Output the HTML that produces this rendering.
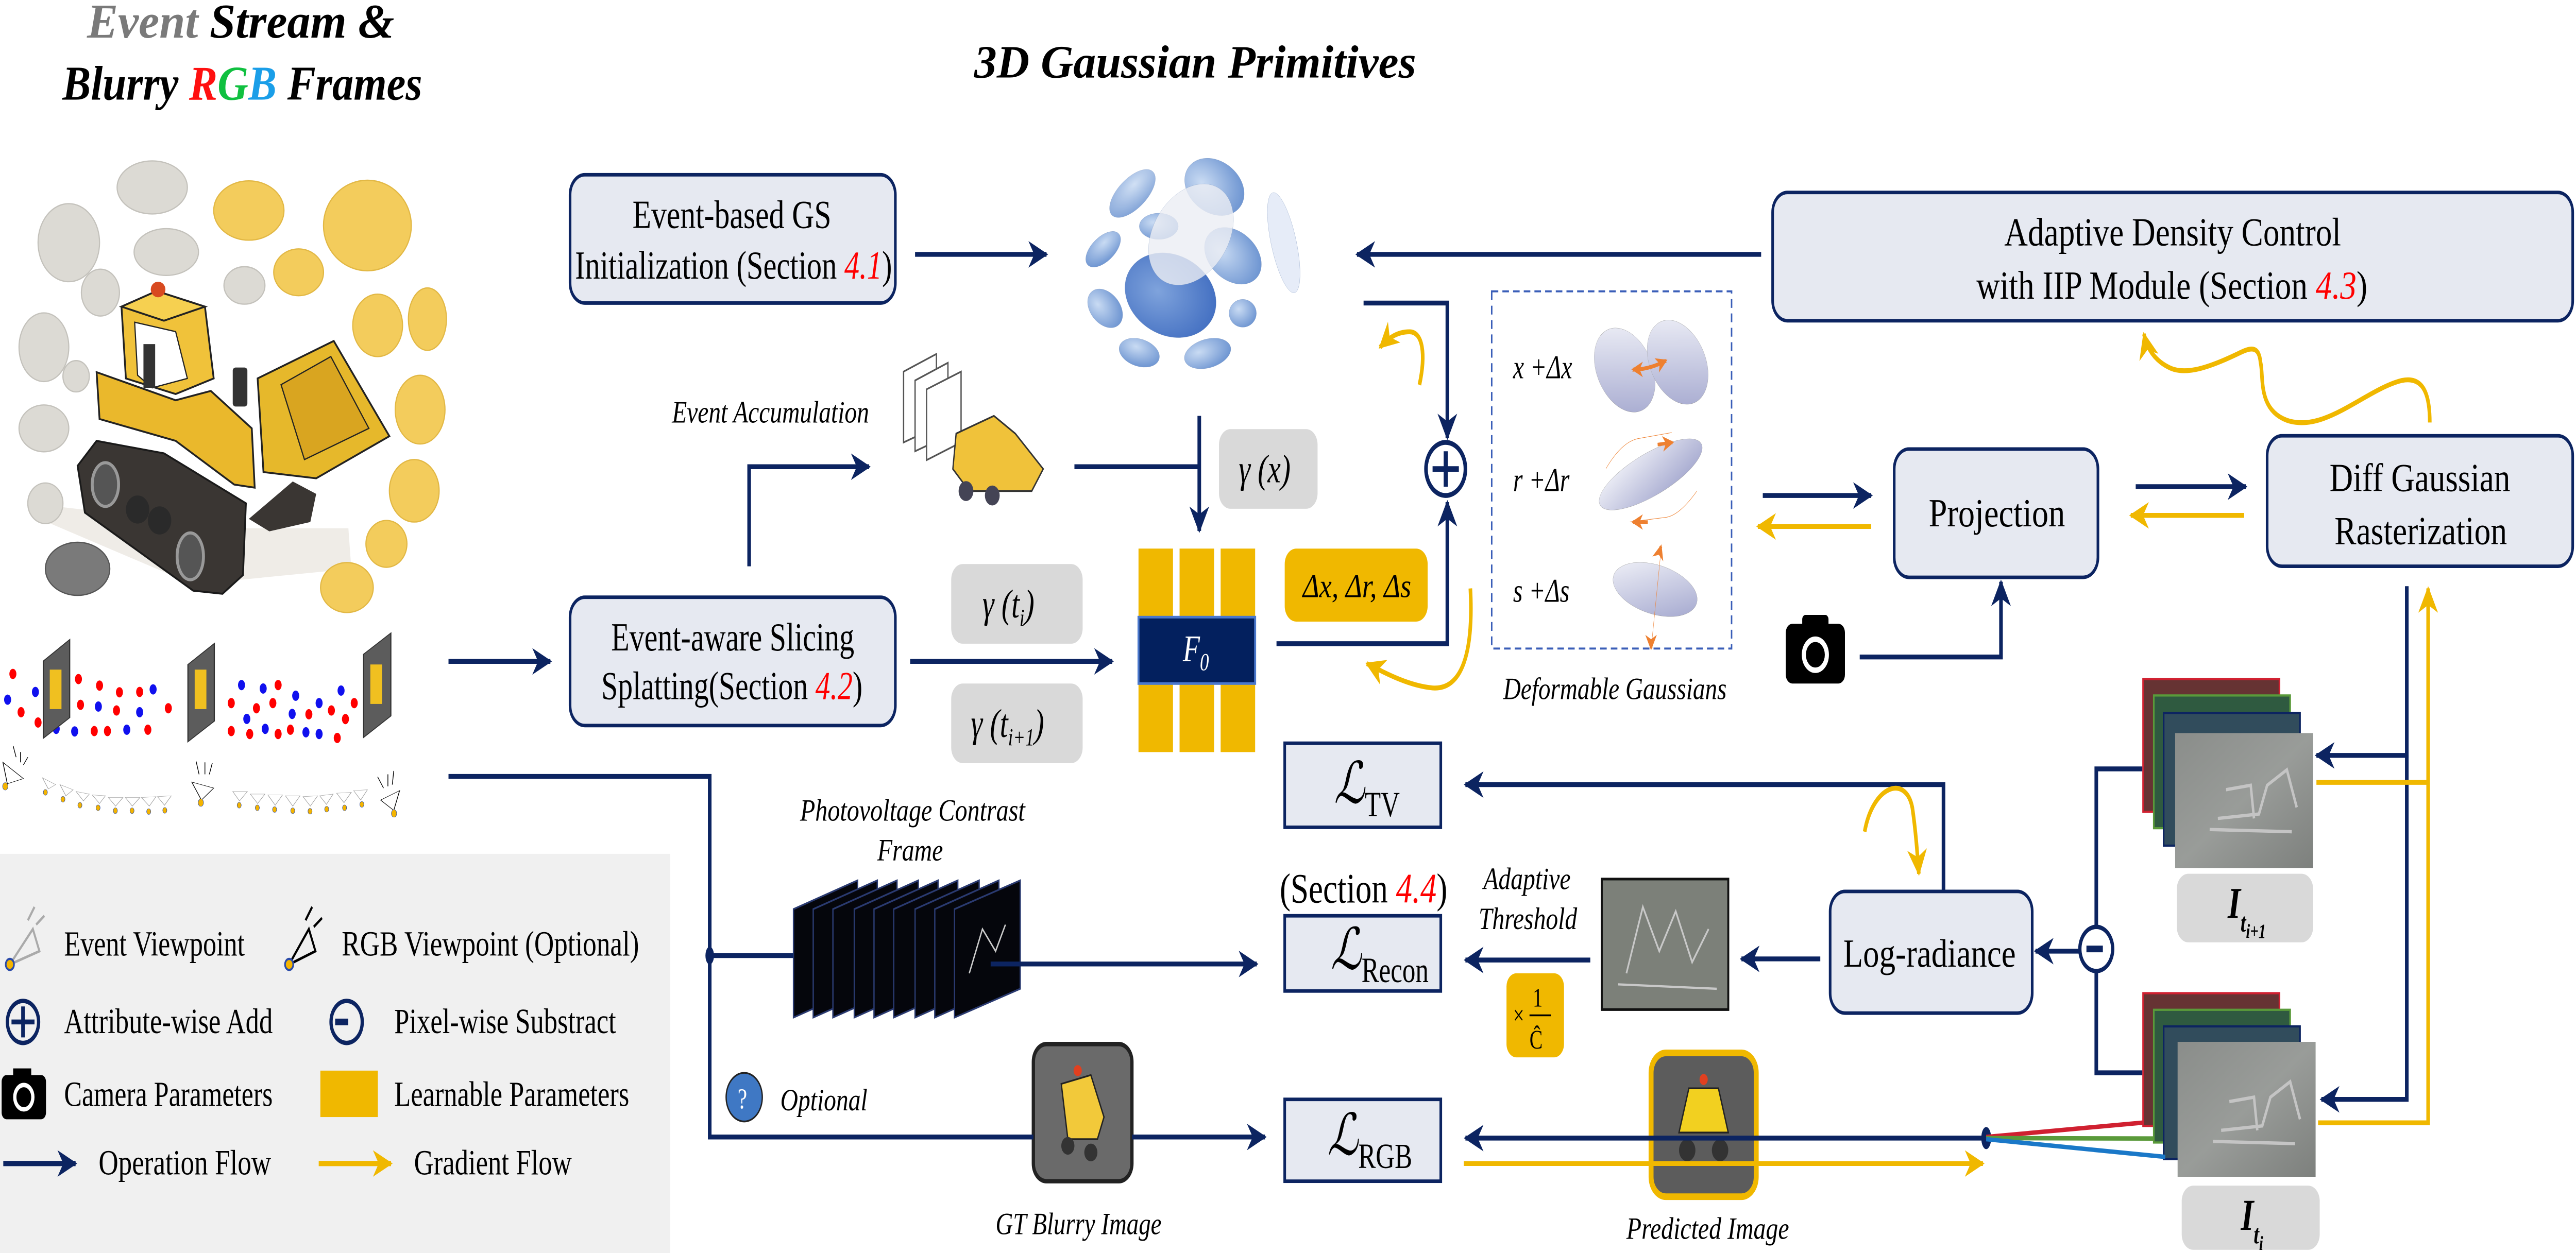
<!DOCTYPE html>
<html><head><meta charset="utf-8"><style>
html,body{margin:0;padding:0;background:#fff;width:100%;height:100%;overflow:hidden;}
svg{display:block;width:100vw;height:100vh;}
text{font-family:"Liberation Serif","DejaVu Serif",serif;}
</style></head><body>
<svg viewBox="0 0 1568 566.45" preserveAspectRatio="none" xmlns="http://www.w3.org/2000/svg">
<defs>
<marker id="an" markerUnits="userSpaceOnUse" markerWidth="14" markerHeight="14" refX="11" refY="6" orient="auto"><path d="M0,0 L12,6 L0,12 L3.5,6 Z" fill="#0c2461"/></marker>
<marker id="ay" markerUnits="userSpaceOnUse" markerWidth="14" markerHeight="14" refX="11" refY="6" orient="auto"><path d="M0,0 L12,6 L0,12 L3.5,6 Z" fill="#f0b800"/></marker>
<marker id="ao" markerUnits="userSpaceOnUse" markerWidth="8" markerHeight="8" refX="6" refY="3.5" orient="auto"><path d="M0,0 L7,3.5 L0,7 L2,3.5 Z" fill="#ee8030"/></marker>
<marker id="aos" markerUnits="userSpaceOnUse" markerWidth="8" markerHeight="8" refX="6" refY="3.5" orient="auto-start-reverse"><path d="M0,0 L7,3.5 L0,7 L2,3.5 Z" fill="#ee8030"/></marker>
<radialGradient id="gb" cx="35%" cy="35%" r="70%"><stop offset="0" stop-color="#c9dbf3"/><stop offset="1" stop-color="#6f96d2"/></radialGradient>
<radialGradient id="gbd" cx="40%" cy="40%" r="70%"><stop offset="0" stop-color="#7fa3dc"/><stop offset="1" stop-color="#3f6cc0"/></radialGradient>
<linearGradient id="gl" x1="0" y1="0" x2="1" y2="1"><stop offset="0" stop-color="#f4f5fa"/><stop offset="1" stop-color="#9fa3cc"/></linearGradient>
<linearGradient id="gi" x1="0" y1="0" x2="1" y2="1"><stop offset="0" stop-color="#8a8d8a"/><stop offset="0.5" stop-color="#999c99"/><stop offset="1" stop-color="#7d807d"/></linearGradient>
</defs>

<!-- Titles -->
<text x="53" y="17" font-family="Liberation Sans" font-weight="bold" font-style="italic" font-size="22" textLength="187" lengthAdjust="spacingAndGlyphs"><tspan fill="#7a7a7a">Event</tspan> Stream &amp;</text>
<text x="38" y="45" font-family="Liberation Sans" font-weight="bold" font-style="italic" font-size="22" textLength="219" lengthAdjust="spacingAndGlyphs">Blurry <tspan fill="#ff1010">R</tspan><tspan fill="#10c040">G</tspan><tspan fill="#1a9ee8">B</tspan> Frames</text>
<text x="593" y="35" font-family="Liberation Sans" font-weight="bold" font-style="italic" font-size="21" textLength="269" lengthAdjust="spacingAndGlyphs">3D Gaussian Primitives</text>

<!-- Left illustration -->
<g transform="translate(0,58.2) scale(0.1782,0.1411)">
<polygon points="190,1210 840,1280 1190,1280 1200,1410 660,1460 160,1260" fill="#efece7"/>
<g fill="#dcdad4" stroke="#c4c2bc" stroke-width="4">
<ellipse cx="520" cy="188" rx="120" ry="85"/><ellipse cx="235" cy="365" rx="105" ry="125"/><ellipse cx="568" cy="395" rx="110" ry="75"/><ellipse cx="343" cy="525" rx="65" ry="75"/><ellipse cx="150" cy="700" rx="85" ry="110"/><ellipse cx="260" cy="793" rx="45" ry="50"/><ellipse cx="150" cy="960" rx="85" ry="75"/><ellipse cx="835" cy="502" rx="70" ry="60"/><ellipse cx="155" cy="1200" rx="60" ry="65"/></g>
<g fill="#f3cc5c" stroke="#e2b845" stroke-width="4">
<ellipse cx="850" cy="262" rx="120" ry="95"/><ellipse cx="1255" cy="310" rx="150" ry="145"/><ellipse cx="1020" cy="460" rx="85" ry="75"/><ellipse cx="1290" cy="630" rx="85" ry="100"/><ellipse cx="1460" cy="610" rx="65" ry="100"/><ellipse cx="1435" cy="900" rx="85" ry="110"/><ellipse cx="1415" cy="1160" rx="85" ry="100"/><ellipse cx="1320" cy="1330" rx="70" ry="75"/><ellipse cx="1185" cy="1470" rx="90" ry="80"/></g>
<ellipse cx="265" cy="1410" rx="110" ry="85" fill="#7a7a7a" stroke="#555" stroke-width="4"/>
<polygon points="850,1250 1000,1130 1080,1170 1060,1260 920,1290" fill="#3a3633"/>
<polygon points="265,1080 330,1000 560,1040 840,1200 830,1430 760,1490 660,1480 290,1230" fill="#3a3633" stroke="#1a1a1a" stroke-width="6"/>
<ellipse cx="360" cy="1140" rx="45" ry="70" fill="#555" stroke="#999" stroke-width="10"/>
<ellipse cx="650" cy="1370" rx="45" ry="75" fill="#555" stroke="#999" stroke-width="10"/>
<ellipse cx="470" cy="1220" rx="40" ry="45" fill="#2a2a2a"/><ellipse cx="545" cy="1255" rx="40" ry="45" fill="#2a2a2a"/>
<polygon points="330,780 600,870 720,840 860,960 870,1150 800,1140 600,1000 340,930" fill="#eab82c" stroke="#222" stroke-width="6"/>
<polygon points="415,570 535,520 700,570 730,800 600,850 430,800" fill="#f0c23a" stroke="#222" stroke-width="6"/>
<polygon points="460,620 600,650 640,800 520,830 470,790" fill="#fff" stroke="#222" stroke-width="4"/>
<rect x="490" y="690" width="40" height="140" fill="#333"/>
<polygon points="415,570 535,520 700,570 560,615" fill="#f6d050" stroke="#222" stroke-width="6"/>
<circle cx="540" cy="515" r="25" fill="#d84a20"/>
<rect x="795" y="765" width="50" height="125" rx="10" fill="#333"/>
<polygon points="880,800 1140,680 1330,985 1080,1120 900,1100" fill="#e6b82b" stroke="#222" stroke-width="6"/>
<polygon points="960,820 1130,730 1260,960 1040,1060" fill="#d9a520" stroke="#222" stroke-width="4"/>
</g>

<!-- event stream row -->
<g transform="translate(0,267.8) scale(0.1782,0.0776)">
<g fill="#ff0000"><ellipse cx="44" cy="475" rx="12" ry="30"/><ellipse cx="72" cy="698" rx="12" ry="30"/><ellipse cx="130" cy="758" rx="12" ry="30"/><ellipse cx="268" cy="505" rx="12" ry="30"/><ellipse cx="340" cy="543" rx="12" ry="30"/><ellipse cx="408" cy="582" rx="12" ry="30"/><ellipse cx="477" cy="580" rx="12" ry="30"/><ellipse cx="275" cy="655" rx="12" ry="30"/><ellipse cx="398" cy="688" rx="12" ry="30"/><ellipse cx="575" cy="675" rx="12" ry="30"/><ellipse cx="322" cy="808" rx="12" ry="30"/><ellipse cx="367" cy="808" rx="12" ry="30"/><ellipse cx="505" cy="800" rx="12" ry="30"/><ellipse cx="950" cy="540" rx="12" ry="30"/><ellipse cx="790" cy="645" rx="12" ry="30"/><ellipse cx="876" cy="675" rx="12" ry="30"/><ellipse cx="932" cy="645" rx="12" ry="30"/><ellipse cx="1055" cy="710" rx="12" ry="30"/><ellipse cx="1132" cy="688" rx="12" ry="30"/><ellipse cx="1180" cy="738" rx="12" ry="30"/><ellipse cx="1210" cy="645" rx="12" ry="30"/><ellipse cx="790" cy="808" rx="12" ry="30"/><ellipse cx="853" cy="825" rx="12" ry="30"/><ellipse cx="950" cy="825" rx="12" ry="30"/><ellipse cx="992" cy="800" rx="12" ry="30"/><ellipse cx="1152" cy="848" rx="12" ry="30"/></g>
<g fill="#1010ee"><ellipse cx="26" cy="625" rx="12" ry="30"/><ellipse cx="121" cy="580" rx="12" ry="30"/><ellipse cx="192" cy="795" rx="12" ry="30"/><ellipse cx="255" cy="810" rx="12" ry="30"/><ellipse cx="336" cy="665" rx="12" ry="30"/><ellipse cx="477" cy="698" rx="12" ry="30"/><ellipse cx="523" cy="565" rx="12" ry="30"/><ellipse cx="433" cy="800" rx="12" ry="30"/><ellipse cx="825" cy="540" rx="12" ry="30"/><ellipse cx="899" cy="560" rx="12" ry="30"/><ellipse cx="1010" cy="602" rx="12" ry="30"/><ellipse cx="1090" cy="645" rx="12" ry="30"/><ellipse cx="1165" cy="572" rx="12" ry="30"/><ellipse cx="843" cy="737" rx="12" ry="30"/><ellipse cx="998" cy="708" rx="12" ry="30"/><ellipse cx="906" cy="795" rx="12" ry="30"/><ellipse cx="1045" cy="815" rx="12" ry="30"/><ellipse cx="1090" cy="825" rx="12" ry="30"/></g>
<g fill="#5c5c5c" stroke="#333" stroke-width="4">
<polygon points="148,400 238,275 238,730 148,850"/><polygon points="642,420 732,298 732,750 642,870"/><polygon points="1242,360 1335,237 1335,720 1242,845"/></g>
<g fill="#f0c020"><rect x="170" y="450" width="40" height="230"/><rect x="665" y="450" width="40" height="230"/><rect x="1265" y="420" width="40" height="230"/></g>
<g fill="none" stroke="#000" stroke-width="2.5" vector-effect="non-scaling-stroke">
<polygon points="10,990 80,1085 25,1115"/><polygon points="655,1105 730,1140 688,1210"/><polygon points="1365,1155 1300,1210 1345,1270"/>
<path d="M45,895 L55,960 M70,930 L70,990 M95,960 L80,1005 M670,985 L680,1060 M700,990 L700,1060 M725,995 L715,1060 M1290,1075 L1310,1140 M1325,1060 L1325,1130 M1345,1040 L1340,1120"/></g>
<g fill="none" stroke="#9a9a9a" stroke-width="2" vector-effect="non-scaling-stroke">
<polygon points="145,1080 190,1120 165,1145"/><polygon points="205,1120 250,1150 225,1185"/><polygon points="260,1160 305,1175 285,1215"/><polygon points="315,1180 360,1185 340,1230"/><polygon points="370,1195 420,1195 395,1245"/><polygon points="428,1195 478,1195 452,1245"/><polygon points="483,1195 533,1190 510,1245"/><polygon points="538,1190 585,1185 562,1240"/>
<polygon points="795,1160 845,1160 818,1215"/><polygon points="855,1175 905,1175 880,1230"/><polygon points="915,1180 965,1180 940,1240"/><polygon points="975,1185 1025,1185 1000,1245"/><polygon points="1035,1190 1085,1185 1060,1245"/><polygon points="1092,1185 1138,1175 1115,1235"/><polygon points="1150,1170 1200,1165 1175,1225"/><polygon points="1208,1155 1255,1150 1232,1210"/></g>
<g fill="#f4b400" stroke="#2a4aa8" stroke-width="1.5" vector-effect="non-scaling-stroke">
<ellipse cx="18" cy="1130" rx="9" ry="22"/><ellipse cx="155" cy="1165" rx="7" ry="17"/><ellipse cx="215" cy="1205" rx="7" ry="17"/><ellipse cx="273" cy="1240" rx="7" ry="17"/><ellipse cx="335" cy="1255" rx="7" ry="17"/><ellipse cx="394" cy="1272" rx="7" ry="17"/><ellipse cx="451" cy="1272" rx="7" ry="17"/><ellipse cx="508" cy="1277" rx="7" ry="17"/><ellipse cx="563" cy="1270" rx="7" ry="17"/><ellipse cx="686" cy="1225" rx="9" ry="22"/><ellipse cx="817" cy="1240" rx="7" ry="17"/><ellipse cx="879" cy="1255" rx="7" ry="17"/><ellipse cx="938" cy="1265" rx="7" ry="17"/><ellipse cx="1000" cy="1272" rx="7" ry="17"/><ellipse cx="1059" cy="1275" rx="7" ry="17"/><ellipse cx="1116" cy="1263" rx="7" ry="17"/><ellipse cx="1177" cy="1255" rx="7" ry="17"/><ellipse cx="1236" cy="1235" rx="7" ry="17"/><ellipse cx="1346" cy="1288" rx="9" ry="22"/></g>
</g>

<!-- Legend -->
<rect x="0" y="386" width="408" height="181" fill="#f0f0f0"/>
<g font-size="16">
<text x="39" y="432" textLength="110" lengthAdjust="spacingAndGlyphs">Event Viewpoint</text>
<text x="208" y="432" textLength="181" lengthAdjust="spacingAndGlyphs">RGB Viewpoint (Optional)</text>
<text x="39" y="467" textLength="127" lengthAdjust="spacingAndGlyphs">Attribute-wise Add</text>
<text x="240" y="467" textLength="135" lengthAdjust="spacingAndGlyphs">Pixel-wise Substract</text>
<text x="39" y="500" textLength="127" lengthAdjust="spacingAndGlyphs">Camera Parameters</text>
<text x="240" y="500" textLength="143" lengthAdjust="spacingAndGlyphs">Learnable Parameters</text>
<text x="60" y="531" textLength="105" lengthAdjust="spacingAndGlyphs">Operation Flow</text>
<text x="252" y="531" textLength="96" lengthAdjust="spacingAndGlyphs">Gradient Flow</text>
</g>
<g fill="none" stroke="#aaa" stroke-width="1.2"><polygon points="6,436 20,420 24,430"/><path d="M17,416 L21,410 M22,418 L27,414"/></g><circle cx="6" cy="436" r="2.5" fill="#f4b400" stroke="#2a4aa8"/>
<g fill="none" stroke="#000" stroke-width="1.2"><polygon points="176,436 188,420 192,430"/><path d="M186,416 L190,410 M191,419 L196,415"/></g><circle cx="176" cy="436" r="2.5" fill="#f4b400" stroke="#2a4aa8"/>
<circle cx="14" cy="462" r="9.5" fill="none" stroke="#0c2461" stroke-width="2"/><path d="M7,462 H21 M14,455 V469" stroke="#0c2461" stroke-width="2.2"/>
<circle cx="211" cy="462" r="9.5" fill="none" stroke="#0c2461" stroke-width="2"/><path d="M204,462 H212" stroke="#0c2461" stroke-width="3"/>
<rect x="1" y="486" width="27" height="20" rx="3" fill="#000"/><rect x="8" y="483" width="11" height="5" fill="#000"/><circle cx="14.5" cy="496" r="5.5" fill="none" stroke="#fff" stroke-width="2"/>
<rect x="195" y="484" width="35" height="21" fill="#f0b800"/>
<line x1="2" y1="526" x2="46" y2="526" stroke="#0c2461" stroke-width="2.4" marker-end="url(#an)"/>
<line x1="194" y1="526" x2="238" y2="526" stroke="#f0b800" stroke-width="2.4" marker-end="url(#ay)"/>

<!-- Gaussian blob -->
<g transform="translate(651.9,65.2) scale(0.1188,0.0742)" stroke="#7f97bf" stroke-width="1" vector-effect="non-scaling-stroke">
<ellipse cx="315" cy="300" rx="80" ry="170" transform="rotate(35 315 300)" fill="url(#gb)" opacity="0.85"/>
<ellipse cx="735" cy="260" rx="140" ry="185" transform="rotate(-30 735 260)" fill="url(#gb)"/>
<ellipse cx="450" cy="500" rx="100" ry="80" fill="url(#gb)"/>
<ellipse cx="165" cy="640" rx="65" ry="125" transform="rotate(35 165 640)" fill="url(#gb)"/>
<ellipse cx="830" cy="680" rx="130" ry="185" transform="rotate(-30 830 680)" fill="url(#gb)"/>
<ellipse cx="510" cy="920" rx="220" ry="270" transform="rotate(-30 510 920)" fill="url(#gbd)"/>
<ellipse cx="615" cy="550" rx="200" ry="320" transform="rotate(20 615 550)" fill="#eceef4" opacity="0.8"/>
<ellipse cx="1090" cy="600" rx="65" ry="310" transform="rotate(-10 1090 600)" fill="#e6ecf8"/>
<ellipse cx="175" cy="1000" rx="80" ry="125" transform="rotate(-25 175 1000)" fill="url(#gb)"/>
<ellipse cx="880" cy="1030" rx="70" ry="85" fill="url(#gb)"/>
<ellipse cx="350" cy="1270" rx="110" ry="80" transform="rotate(30 350 1270)" fill="url(#gb)"/>
<ellipse cx="700" cy="1275" rx="125" ry="85" transform="rotate(-25 700 1275)" fill="url(#gb)"/>
</g>

<!-- Boxes -->
<g fill="#e6e9f1" stroke="#0c2461" stroke-width="1.6">
<rect x="347" y="79" width="198" height="58" rx="9"/>
<rect x="347" y="270" width="198" height="58" rx="9"/>
<rect x="1079" y="87" width="487" height="58" rx="9"/>
<rect x="1153" y="203" width="124" height="58" rx="9"/>
<rect x="1380" y="197" width="186" height="59" rx="9"/>
<rect x="1114" y="403" width="123" height="55" rx="9"/>
<rect x="782" y="336" width="95" height="38"/>
<rect x="782" y="414" width="95" height="34"/>
<rect x="782" y="497" width="95" height="37"/>
</g>
<g font-size="18" text-anchor="start">
<text x="385" y="103" textLength="121" lengthAdjust="spacingAndGlyphs">Event-based  GS</text>
<text x="350" y="126" textLength="193" lengthAdjust="spacingAndGlyphs">Initialization (Section <tspan fill="#ff0000" font-style="italic">4.1</tspan>)</text>
<text x="372" y="294" textLength="148" lengthAdjust="spacingAndGlyphs">Event-aware Slicing</text>
<text x="366" y="316" textLength="159" lengthAdjust="spacingAndGlyphs">Splatting(Section <tspan fill="#ff0000" font-style="italic">4.2</tspan>)</text>
<text x="1220" y="111" textLength="205" lengthAdjust="spacingAndGlyphs">Adaptive Density Control</text>
<text x="1203" y="135" textLength="238" lengthAdjust="spacingAndGlyphs">with IIP Module (Section <tspan fill="#ff0000" font-style="italic">4.3</tspan>)</text>
<text x="1174" y="238" textLength="83" lengthAdjust="spacingAndGlyphs">Projection</text>
<text x="1418" y="222" textLength="110" lengthAdjust="spacingAndGlyphs">Diff Gaussian</text>
<text x="1421" y="246" textLength="105" lengthAdjust="spacingAndGlyphs">Rasterization</text>
<text x="1122" y="437" textLength="105" lengthAdjust="spacingAndGlyphs">Log-radiance</text>
<text x="779" y="408" font-size="19" textLength="102" lengthAdjust="spacingAndGlyphs">(Section <tspan fill="#ff0000" font-style="italic">4.4</tspan>)</text>
</g>
<g font-style="italic">
<text x="812" y="363" font-size="26">ℒ<tspan font-style="normal" font-size="16" dy="6">TV</tspan></text>
<text x="810" y="438" font-size="26">ℒ<tspan font-style="normal" font-size="16" dy="6">Recon</tspan></text>
<text x="808" y="522" font-size="26">ℒ<tspan font-style="normal" font-size="16" dy="6">RGB</tspan></text>
</g>

<!-- italic captions -->
<g font-style="italic" font-size="14">
<text x="409" y="191" textLength="120" lengthAdjust="spacingAndGlyphs">Event Accumulation</text>
<text x="915" y="316" textLength="136" lengthAdjust="spacingAndGlyphs">Deformable Gaussians</text>
<text x="487" y="371" textLength="137" lengthAdjust="spacingAndGlyphs">Photovoltage Contrast</text>
<text x="534" y="389" textLength="40" lengthAdjust="spacingAndGlyphs">Frame</text>
<text x="475" y="502" textLength="53" lengthAdjust="spacingAndGlyphs">Optional</text>
<text x="606" y="558" textLength="101" lengthAdjust="spacingAndGlyphs">GT Blurry Image</text>
<text x="990" y="560" textLength="99" lengthAdjust="spacingAndGlyphs">Predicted Image</text>
<text x="903" y="402" textLength="53" lengthAdjust="spacingAndGlyphs">Adaptive</text>
<text x="900" y="420" textLength="60" lengthAdjust="spacingAndGlyphs">Threshold</text>
</g>

<!-- gamma boxes -->
<g fill="#d9d9d9"><rect x="742" y="194" width="60" height="36" rx="7"/><rect x="579" y="255" width="80" height="36" rx="7"/><rect x="579" y="309" width="80" height="36" rx="7"/>
<rect x="1325" y="395" width="83" height="31" rx="7"/><rect x="1328" y="536" width="84" height="29" rx="7"/></g>
<g font-style="italic" font-size="18">
<text x="754" y="218">γ (<tspan>x</tspan>)</text>
<text x="598" y="279">γ (<tspan>t</tspan><tspan font-size="11" dy="4">i</tspan><tspan dy="-4">)</tspan></text>
<text x="591" y="333">γ (<tspan>t</tspan><tspan font-size="11" dy="4">i+1</tspan><tspan dy="-4">)</tspan></text>
<text x="1356" y="415" font-size="20" font-weight="bold">I<tspan font-size="12" dy="6">t</tspan><tspan font-size="9" dy="3">i+1</tspan></text>
<text x="1364" y="556" font-size="20" font-weight="bold">I<tspan font-size="12" dy="6">t</tspan><tspan font-size="9" dy="3">i</tspan></text>
</g>

<!-- F0 -->
<g fill="#f0b800"><rect x="693" y="248" width="21" height="92"/><rect x="718" y="248" width="21" height="92"/><rect x="743" y="248" width="21" height="92"/></g>
<rect x="693" y="279" width="71" height="30" fill="#03205e" stroke="#4a78cc" stroke-width="1.2"/>
<text x="720" y="299" fill="#fff" font-style="italic" font-size="17">F<tspan font-size="11" dy="4">0</tspan></text>
<rect x="782" y="248" width="87" height="33" rx="7" fill="#f0b800"/>
<text x="793" y="270" font-style="italic" font-size="15" textLength="66" lengthAdjust="spacingAndGlyphs">Δx, Δr, Δs</text>
<rect x="917" y="440" width="35" height="38" rx="6" fill="#f0b800"/>
<text x="921" y="463" font-size="12">×</text><text x="933" y="455" font-size="12">1</text><line x1="931" y1="459" x2="944" y2="459" stroke="#000" stroke-width="0.8"/><text x="931" y="474" font-size="12">Ĉ</text>

<!-- Event accumulation image -->
<g stroke="#555" stroke-width="0.8" fill="#fff"><polygon points="550,168 570,160 570,193 550,200"/><polygon points="557,172 577,164 577,197 557,204"/><polygon points="564,176 585,168 585,200 564,208"/></g>
<polygon points="582,196 605,188 618,196 635,212 628,222 590,222 580,212" fill="#f0c23a" stroke="#333" stroke-width="0.8"/>
<circle cx="588" cy="222" r="4.5" fill="#445"/><circle cx="604" cy="224" r="4.5" fill="#445"/>

<!-- Deformable box -->
<rect x="908" y="131.7" width="146" height="161.5" fill="none" stroke="#3a5eb8" stroke-width="0.9" stroke-dasharray="4,2.5"/>
<g font-style="italic" font-size="15">
<text x="921" y="171">x +Δx</text><text x="921" y="222">r +Δr</text><text x="921" y="272">s +Δs</text></g>
<g transform="translate(931.3,128.1) scale(0.1039,0.1188)">
<g fill="url(#gl)" stroke="#999" stroke-width="1" vector-effect="non-scaling-stroke">
<ellipse cx="555" cy="330" rx="195" ry="140" transform="rotate(35 555 330)"/>
<ellipse cx="865" cy="300" rx="195" ry="140" transform="rotate(35 865 300)"/>
<ellipse cx="707" cy="727" rx="320" ry="85" transform="rotate(-20 707 727)"/>
<ellipse cx="733" cy="1165" rx="250" ry="95" transform="rotate(10 733 1165)"/></g>
<g fill="none" stroke="#ee8030" stroke-width="2" vector-effect="non-scaling-stroke">
<path d="M600,335 Q700,335 800,300"/><path d="M445,705 Q540,600 640,590 L830,568"/><path d="M978,790 Q880,880 800,890 L585,908"/><path d="M770,1000 L712,1375"/></g>
</g>
<g fill="none" stroke="#ee8030" stroke-width="1.6">
<path d="M994,167 Q1004,167 1014,163" marker-start="url(#aos)" marker-end="url(#ao)"/>
<path d="M1009,201 L1018,200" marker-end="url(#ao)"/><path d="M1003,236 L994,236" marker-end="url(#ao)"/>
<path d="M1010,250 L1011,247" marker-end="url(#ao)"/><path d="M1005,290 L1005,293" marker-end="url(#ao)"/>
</g>

<!-- Threshold image -->
<rect x="975" y="397.4" width="77" height="59" fill="#7c8079" stroke="#111" stroke-width="1.2"/>
<path d="M990,440 L1000,410 L1010,430 L1020,412 L1030,435 L1040,420 M985,445 L1045,447" stroke="#c8c8c8" stroke-width="1" fill="none"/>

<!-- Photovoltage frames -->
<g fill="#05060c" stroke="#2a3a70" stroke-width="0.8">
<polygon points="483,411 522,398 522,447 483,460"/><polygon points="495,411 534,398 534,447 495,460"/><polygon points="507,411 546,398 546,447 507,460"/><polygon points="520,411 559,398 559,447 520,460"/><polygon points="532,411 571,398 571,447 532,460"/><polygon points="544,411 583,398 583,447 544,460"/><polygon points="557,411 596,398 596,447 557,460"/><polygon points="569,411 608,398 608,447 569,460"/><polygon points="581,411 621,398 621,447 581,460"/></g>
<path d="M590,440 L598,420 L606,430 L612,418" stroke="#ccc" stroke-width="0.8" fill="none"/>

<!-- GT image, predicted image -->
<rect x="629" y="472" width="60" height="62" rx="8" fill="#6a6a6a" stroke="#222" stroke-width="2"/>
<polygon points="646,490 664,486 672,505 668,515 650,515" fill="#f2c93a" stroke="#222" stroke-width="0.8"/><circle cx="656" cy="484" r="2.5" fill="#e04020"/>
<circle cx="650" cy="518" r="4" fill="#333"/><circle cx="664" cy="521" r="4" fill="#333"/>
<rect x="1005" y="476" width="64" height="65" rx="9" fill="#5c5c5c" stroke="#f0b800" stroke-width="3"/>
<polygon points="1028,492 1046,492 1052,512 1022,512" fill="#f2d020" stroke="#222" stroke-width="0.8"/><circle cx="1037" cy="488" r="2.5" fill="#e04020"/>
<circle cx="1027" cy="520" r="5" fill="#333"/><circle cx="1047" cy="520" r="5" fill="#333"/>

<!-- Optional bubble & cameras -->
<circle cx="453" cy="496" r="11" fill="#3f78c4" stroke="#222" stroke-width="0.8"/><text x="449" y="501" font-size="13" fill="#fff" font-family="Liberation Sans">?</text>
<rect x="1087" y="282" width="36" height="27" rx="4" fill="#000"/><rect x="1097" y="278" width="16" height="6" rx="2" fill="#000"/><circle cx="1105" cy="296" r="7" fill="none" stroke="#fff" stroke-width="2.5"/>

<!-- Image stacks -->
<g stroke-width="1">
<rect x="1304.5" y="307" width="83" height="60" fill="#663333" stroke="#d02030"/>
<rect x="1311" y="314.4" width="83" height="60" fill="#2f5a40" stroke="#5a9a3a"/>
<rect x="1317" y="322.3" width="83" height="60" fill="#314c5c" stroke="#0c2461"/>
<rect x="1324" y="331.4" width="84" height="61" fill="url(#gi)" stroke="none"/>
<rect x="1304.5" y="449" width="83" height="60" fill="#663333" stroke="#d02030"/>
<rect x="1311" y="456.5" width="83" height="60" fill="#2f5a40" stroke="#5a9a3a"/>
<rect x="1317" y="464" width="83" height="60" fill="#314c5c" stroke="#0c2461"/>
<rect x="1325.5" y="471" width="84" height="61" fill="url(#gi)" stroke="none"/>
</g>
<g fill="none" stroke="#c4c4c4" stroke-width="1.5">
<path d="M1345,375 L1395,376 M1350,370 L1375,368 L1380,355 L1392,348 L1398,365 M1355,357 L1370,355 L1372,370"/>
<path d="M1347,516 L1397,517 M1352,511 L1377,509 L1382,496 L1394,489 L1400,506 M1357,498 L1372,496 L1374,511"/></g>

<!-- Minus -->
<circle cx="1276" cy="429" r="10" fill="#fff" stroke="#0c2461" stroke-width="2"/><line x1="1270" y1="429" x2="1280" y2="429" stroke="#0c2461" stroke-width="3"/>

<!-- Navy connectors -->
<g fill="none" stroke="#0c2461" stroke-width="2.2">
<line x1="557" y1="115" x2="637" y2="115" marker-end="url(#an)"/>
<line x1="1072" y1="115" x2="826" y2="115" marker-end="url(#an)"/>
<polyline points="456,256 456,211 529,211" marker-end="url(#an)"/>
<line x1="654" y1="211" x2="730" y2="211"/>
<line x1="730" y1="188" x2="730" y2="240" marker-end="url(#an)"/>
<line x1="554" y1="299" x2="677" y2="299" marker-end="url(#an)"/>
<line x1="273" y1="299" x2="335" y2="299" marker-end="url(#an)"/>
<polyline points="777,291 881,291 881,227" marker-end="url(#an)"/>
<polyline points="830,137 881,137 881,198" marker-end="url(#an)"/>
<line x1="1073" y1="224" x2="1139" y2="224" marker-end="url(#an)"/>
<line x1="1300" y1="220" x2="1367" y2="220" marker-end="url(#an)"/>
<polyline points="1132,297 1218,297 1218,263" marker-end="url(#an)"/>
<polyline points="1465,265 1465,341.5 1410,341.5" marker-end="url(#an)"/>
<polyline points="1465,341.5 1465,497 1413,497" marker-end="url(#an)"/>
<polyline points="1304,347.6 1276,347.6 1276,419"/>
<polyline points="1304,485 1276,485 1276,439"/>
<line x1="1266" y1="430" x2="1239" y2="430" marker-end="url(#an)"/>
<polyline points="1183,403 1183,354.7 892,354.7" marker-end="url(#an)"/>
<line x1="1108" y1="433.5" x2="1060" y2="433.5" marker-end="url(#an)"/>
<line x1="968" y1="434" x2="892" y2="434" marker-end="url(#an)"/>
<line x1="1209" y1="514.5" x2="892" y2="514.5" marker-end="url(#an)"/>
<polyline points="273,351 432,351 432,514 629,514"/>
<line x1="689" y1="514" x2="770" y2="514" marker-end="url(#an)"/>
<line x1="432" y1="432" x2="483" y2="432"/>
<line x1="603" y1="435.8" x2="765" y2="435.8" marker-end="url(#an)"/>
</g>
<ellipse cx="432" cy="432" rx="2.6" ry="4" fill="#0c2461"/>
<ellipse cx="1209" cy="514.5" rx="3" ry="5" fill="#0c2461"/>
<g stroke-width="2"><line x1="1209" y1="514" x2="1304.5" y2="507.5" stroke="#d02030"/><line x1="1209" y1="514.5" x2="1311" y2="514.7" stroke="#5a9a3a"/><line x1="1209" y1="515" x2="1318" y2="523" stroke="#1a78c8"/></g>

<!-- Yellow connectors -->
<g fill="none" stroke="#f0b800" stroke-width="2.2">
<line x1="1139" y1="238" x2="1070" y2="238" marker-end="url(#ay)"/>
<line x1="1366" y1="233" x2="1297" y2="233" marker-end="url(#ay)"/>
<polyline points="1410,353.7 1478,353.7 1478,507.6 1411,507.6"/>
<line x1="1478" y1="354" x2="1478" y2="266" marker-end="url(#ay)"/>
<line x1="891" y1="526" x2="1207" y2="526" marker-end="url(#ay)"/>
<path d="M1479,191 C1479,178 1475,170 1462,172 C1440,176 1415,196 1392,190 C1374,185 1378,170 1376,164 C1375,156 1370,157 1362,160 C1345,166 1330,170 1320,166 C1312,163 1307,158 1305,151" marker-end="url(#ay)"/>
<path d="M864,174 C868,160 866,150 858,150 C850,150 845,153 840,157" marker-end="url(#ay)"/>
<path d="M895,266 C897,295 890,312 872,311 C858,310 845,305 832,300" marker-end="url(#ay)"/>
<path d="M1135,376 C1140,355 1160,350 1164,365 C1166,375 1167,385 1168,395" marker-end="url(#ay)"/>
</g>

<!-- Plus circle -->
<circle cx="880" cy="212" r="12" fill="#fff" stroke="#0c2461" stroke-width="2.2"/>
<path d="M872,212 H888 M880,204 V220" stroke="#0c2461" stroke-width="2.5"/>
</svg>
</body></html>
